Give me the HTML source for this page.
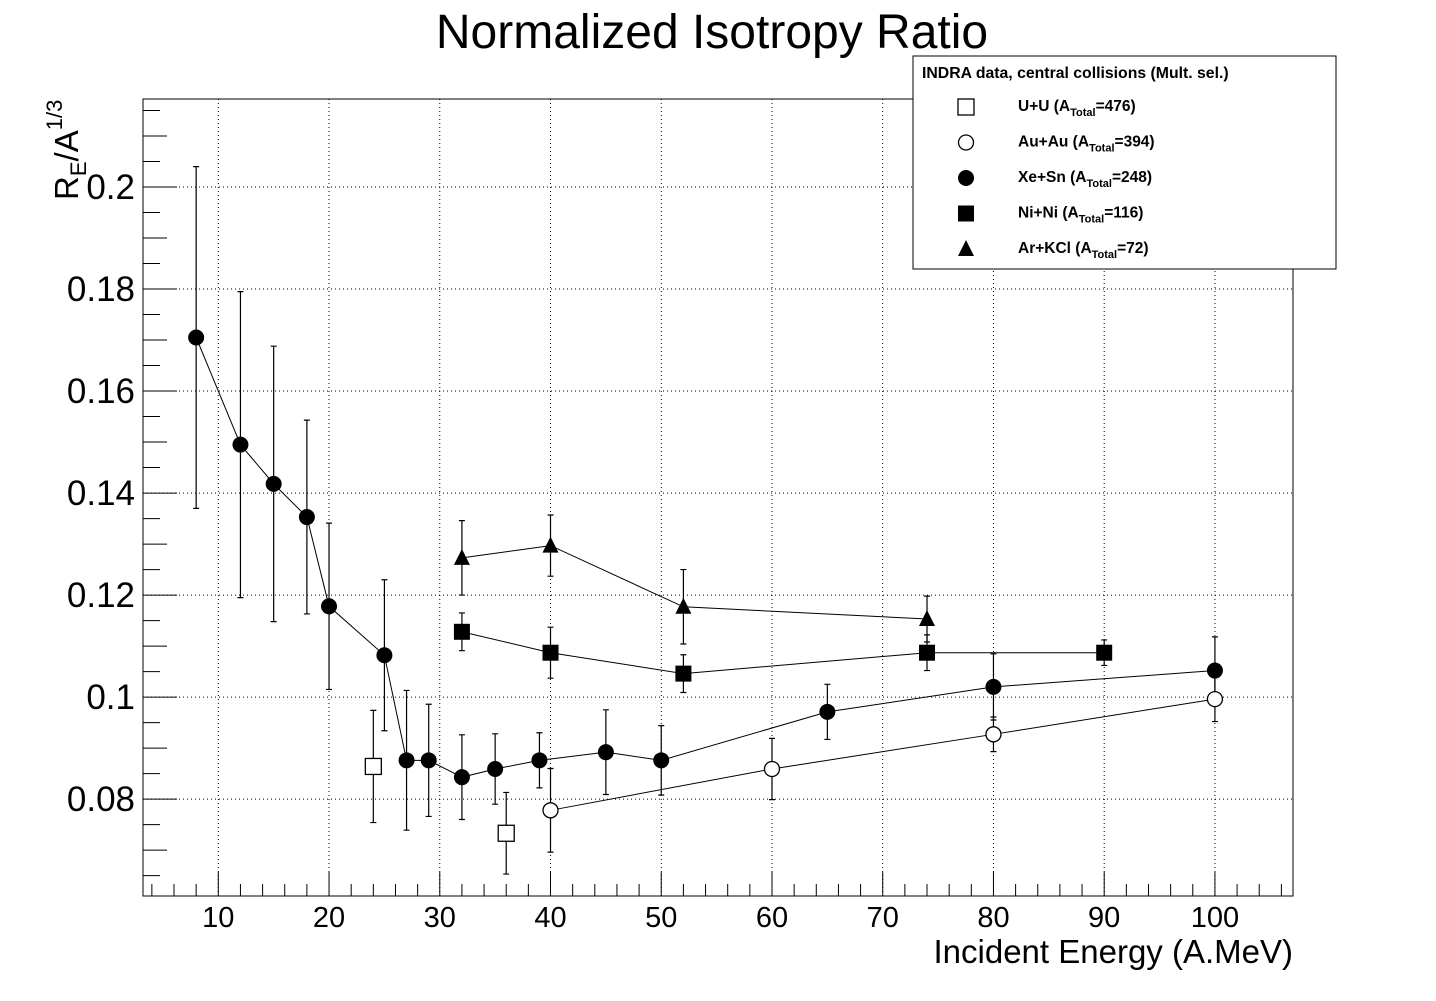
<!DOCTYPE html>
<html><head><meta charset="utf-8"><style>
body{margin:0;background:#fff;}
svg text{font-family:"Liberation Sans",Arial,sans-serif;}
</style></head><body>
<svg id="chart" width="1436" height="996" xmlns="http://www.w3.org/2000/svg">
<rect width="1436" height="996" fill="#fff"/>
<text x="712" y="48" font-size="48" text-anchor="middle">Normalized Isotropy Ratio</text>
<g id="plot"></g>
</svg>
<script>
const xeE=[8,12,15,18,20,25,27,29,32,35,39,45,50,65,80,100];
const xeV=[0.1705,0.1495,0.1418,0.1353,0.1178,0.1082,0.0876,0.0876,0.0843,0.0859,0.0876,0.0892,0.0876,0.0971,0.102,0.1052];
const xeErr=[0.0335,0.03,0.027,0.019,0.0163,0.0148,0.0137,0.011,0.0083,0.0069,0.0054,0.0083,0.0068,0.0054,0.0065,0.0066];
const uuE=[24,36];
const uuV=[0.0864,0.0733];
const uuErr=[0.011,0.008];
const auE=[40,60,80,100];
const auV=[0.0778,0.0859,0.0927,0.0996];
const auErr=[0.0082,0.006,0.0034,0.0044];
const niE=[32,40,52,74,90];
const niV=[0.1128,0.1087,0.1046,0.1087,0.1087];
const niErr=[0.0037,0.005,0.0037,0.0035,0.0025];
const arE=[32,40,52,74];
const arV=[0.1273,0.1297,0.1177,0.1153];
const arErr=[0.0073,0.006,0.0073,0.0045];
const xTicks=[10,20,30,40,50,60,70,80,90,100];
const yTicks=[0.08,0.1,0.12,0.14,0.16,0.18,0.2];

const L=143,R=1293,T=99,B=896;
const xMin=3.2,xMax=107.05,yMin=0.061,yMax=0.21726;
const sx=v=>L+(v-xMin)/(xMax-xMin)*(R-L);
const sy=v=>B-(v-yMin)/(yMax-yMin)*(B-T);
const NS="http://www.w3.org/2000/svg";
const g=document.getElementById('plot');
function mk(tag,attrs,parent){const e=document.createElementNS(NS,tag);for(const k in attrs)e.setAttribute(k,attrs[k]);(parent||g).appendChild(e);return e;}

xTicks.forEach(t=>{const e=mk('line',{x1:sx(t),x2:sx(t),y1:T,y2:B,stroke:'#000','stroke-width':1,'stroke-dasharray':'1,3'});

});
yTicks.forEach(t=>{const e=mk('line',{x1:L,x2:R,y1:sy(t),y2:sy(t),stroke:'#000','stroke-width':1,'stroke-dasharray':'1,3'});

});
const fr=mk('rect',{x:L,y:T,width:R-L,height:B-T,fill:'none',stroke:'#000'});


for(let v=4;v<=106;v+=2){const len=v%10===0?24:(v%5===0?18:12);
const e=mk('line',{x1:sx(v),x2:sx(v),y1:B,y2:B-len,stroke:'#000'});

}
xTicks.forEach(t=>{const e=mk('text',{x:sx(t),y:927,'font-size':29,'text-anchor':'middle'});e.textContent=t;

});
for(let i=0;i*0.005+0.065<=0.217;i++){const v=0.065+i*0.005;const r=Math.round(v*1000);
const len=r%20===0?34:(r%10===0?24:17);
const e=mk('line',{x1:L,x2:L+len,y1:sy(v),y2:sy(v),stroke:'#000'});

}
yTicks.forEach(t=>{const e=mk('text',{x:135,y:sy(t)+12,'font-size':35,'text-anchor':'end'});e.textContent=String(+t.toFixed(2));

});
const xt=mk('text',{x:1293,y:963,'font-size':33,'text-anchor':'end'});xt.textContent='Incident Energy (A.MeV)';


const yt=mk('text',{transform:'translate(78,200) rotate(-90)','font-size':33});
yt.innerHTML='R<tspan font-size="22" dy="8">E</tspan><tspan dy="-8">/A</tspan><tspan font-size="22" dy="-16">1/3</tspan>';



function marker(type,cx,cy,parent){let e;
if(type==='sq')e=mk('rect',{x:cx-8,y:cy-8,width:16,height:16,fill:'#fff',stroke:'#000','stroke-width':1.3},parent);
else if(type==='fsq')e=mk('rect',{x:cx-8,y:cy-8,width:16,height:16,fill:'#000'},parent);
else if(type==='oc')e=mk('circle',{cx:cx,cy:cy,r:7.5,fill:'#fff',stroke:'#000','stroke-width':1.3},parent);
else if(type==='fc')e=mk('circle',{cx:cx,cy:cy,r:8,fill:'#000'},parent);
else e=mk('polygon',{points:`${cx},${cy-9} ${cx+8},${cy+7} ${cx-8},${cy+7}`,fill:'#000'},parent);
return e;}
function series(name,E,V,Err,type,line){
const grp=mk('g',{});


if(line){const p=mk('polyline',{points:E.map((e,i)=>sx(e)+','+sy(V[i])).join(' '),fill:'none',stroke:'#000','stroke-width':1},grp);

}
E.forEach((e,i)=>{const x=sx(e);
const b=mk('path',{d:`M${x},${sy(V[i]+Err[i])}V${sy(V[i]-Err[i])}M${x-3},${sy(V[i]+Err[i])}H${x+3}M${x-3},${sy(V[i]-Err[i])}H${x+3}`,stroke:'#000','stroke-width':1.2,fill:'none'},grp);


const m=marker(type,x,sy(V[i]),grp);

});}
series('xe-sn',xeE,xeV,xeErr,'fc',true);
series('u-u',uuE,uuV,uuErr,'sq',false);
series('au-au',auE,auV,auErr,'oc',true);
series('ni-ni',niE,niV,niErr,'fsq',true);
series('ar-kcl',arE,arV,arErr,'tri',true);

const lg=mk('g',{});


mk('rect',{x:913,y:56,width:423,height:213,fill:'#fff',stroke:'#000'},lg);
const lt=mk('text',{x:922,y:78,'font-size':15.8,'font-weight':'bold'},lg);lt.textContent='INDRA data, central collisions (Mult. sel.)';


const entries=[['sq','U+U','476'],['oc','Au+Au','394'],['fc','Xe+Sn','248'],['fsq','Ni+Ni','116'],['tri','Ar+KCl','72']];
entries.forEach((en,i)=>{const y=107+i*35.5;
const m=marker(en[0],966,y,lg);


const t=mk('text',{x:1018,y:y+4,'font-size':15.5,'font-weight':'bold'},lg);
t.innerHTML=en[1]+' (A<tspan font-size="11" dy="5">Total</tspan><tspan dy="-5">='+en[2]+')</tspan>';

});
</script>
</body></html>
